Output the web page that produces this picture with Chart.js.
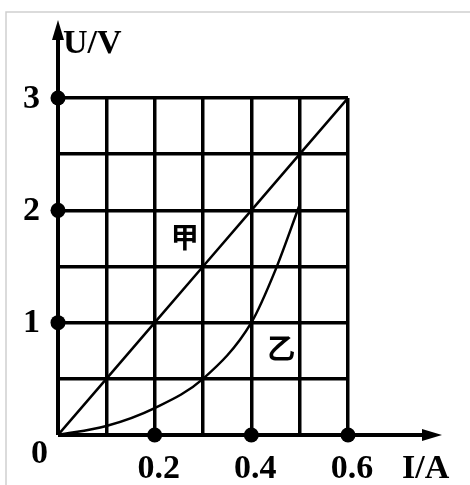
<!DOCTYPE html>
<html>
<head>
<meta charset="utf-8">
<script src="https://cdn.jsdelivr.net/npm/chart.js@4"></script>
<style>
  html, body { margin: 0; padding: 0; background: #fff; }
  canvas { display: block; }
</style>
</head>
<body>
<canvas id="chart" width="470" height="485"></canvas>
<script>
// I-U data
const jiaCurrent = [0, 0.1, 0.2, 0.3, 0.4, 0.5, 0.6];
const jiaVoltage = [0, 0.5, 1, 1.5, 2, 2.5, 3];
const yiCurrent = [0, 0.1, 0.2, 0.3, 0.4, 0.45, 0.5];
const yiVoltage = [0, 0.08, 0.24, 0.5, 1, 1.47, 2.05];

// axis ticks
const xTickLabels = ['0.2', '0.4', '0.6'];
const xTickValues = [0.2, 0.4, 0.6];
const yTickLabels = ['1', '2', '3'];
const yTickValues = [1, 2, 3];

const toPoints = (xs, ys) => xs.map((x, i) => ({ x: x, y: ys[i] }));

// axes, arrows, dots and labels drawn on top of the grid
const decorations = {
  id: 'decorations',
  afterDraw(chart) {
    const ctx = chart.ctx;
    const xs = chart.scales.x, ys = chart.scales.y;
    const x0 = xs.getPixelForValue(0), y0 = ys.getPixelForValue(0);

    ctx.save();
    // light frame
    ctx.strokeStyle = '#cfcfcf';
    ctx.lineWidth = 1.5;
    ctx.beginPath();
    ctx.moveTo(6, 485);
    ctx.lineTo(6, 12);
    ctx.lineTo(470, 12);
    ctx.stroke();

    ctx.strokeStyle = '#000';
    ctx.fillStyle = '#000';
    ctx.lineWidth = 4;
    // x axis with arrow
    ctx.beginPath();
    ctx.moveTo(x0, y0);
    ctx.lineTo(430, y0);
    ctx.stroke();
    ctx.beginPath();
    ctx.moveTo(442, y0);
    ctx.lineTo(422, y0 - 6);
    ctx.lineTo(422, y0 + 6);
    ctx.closePath();
    ctx.fill();
    // y axis with arrow
    ctx.beginPath();
    ctx.moveTo(x0, y0);
    ctx.lineTo(x0, 36);
    ctx.stroke();
    ctx.beginPath();
    ctx.moveTo(x0, 20);
    ctx.lineTo(x0 - 6, 40);
    ctx.lineTo(x0 + 6, 40);
    ctx.closePath();
    ctx.fill();

    // dots on the axes
    xTickValues.forEach(v => {
      ctx.beginPath();
      ctx.arc(xs.getPixelForValue(v), y0, 7.5, 0, Math.PI * 2);
      ctx.fill();
    });
    yTickValues.forEach(v => {
      ctx.beginPath();
      ctx.arc(x0, ys.getPixelForValue(v), 7.5, 0, Math.PI * 2);
      ctx.fill();
    });

    // tick labels
    ctx.font = 'bold 34px "Liberation Serif", serif';
    ctx.textBaseline = 'middle';
    ctx.textAlign = 'center';
    xTickLabels.forEach((t, i) => {
      ctx.fillText(t, xs.getPixelForValue(xTickValues[i]) + 4, y0 + 34);
    });
    ctx.textAlign = 'right';
    yTickLabels.forEach((t, i) => {
      ctx.fillText(t, x0 - 18, ys.getPixelForValue(yTickValues[i]) + 1);
    });
    ctx.fillText('0', x0 - 10, y0 + 19);

    // axis titles
    ctx.textAlign = 'left';
    ctx.fillText('U/V', x0 + 5, 44);
    ctx.fillText('I/A', 402, y0 + 34);

    // curve names
    ctx.font = 'bold 28px "Noto Sans CJK SC", sans-serif';
    ctx.textAlign = 'center';
    ctx.fillText('甲', xs.getPixelForValue(0.262), ys.getPixelForValue(1.76));
    ctx.fillText('乙', xs.getPixelForValue(0.462), ys.getPixelForValue(0.77));
    ctx.restore();
  }
};

new Chart(document.getElementById('chart'), {
  type: 'scatter',
  data: {
    datasets: [
      {
        label: '甲',
        data: toPoints(jiaCurrent, jiaVoltage),
        showLine: true,
        borderColor: '#000',
        borderWidth: 2.5,
        pointRadius: 0,
        tension: 0
      },
      {
        label: '乙',
        data: toPoints(yiCurrent, yiVoltage),
        showLine: true,
        borderColor: '#000',
        borderWidth: 2.5,
        pointRadius: 0,
        cubicInterpolationMode: 'monotone'
      }
    ]
  },
  options: {
    responsive: false,
    animation: false,
    layout: { padding: { left: 58, top: 98, right: 122, bottom: 50 } },
    plugins: { legend: { display: false }, tooltip: { enabled: false } },
    scales: {
      x: {
        type: 'linear',
        min: 0,
        max: 0.6,
        ticks: { display: false, stepSize: 0.1 },
        grid: { color: '#000', lineWidth: 3.5, drawTicks: false },
        border: { display: false }
      },
      y: {
        type: 'linear',
        min: 0,
        max: 3,
        ticks: { display: false, stepSize: 0.5 },
        grid: { color: '#000', lineWidth: 3.5, drawTicks: false },
        border: { display: false }
      }
    }
  },
  plugins: [decorations]
});
</script>
</body>
</html>
